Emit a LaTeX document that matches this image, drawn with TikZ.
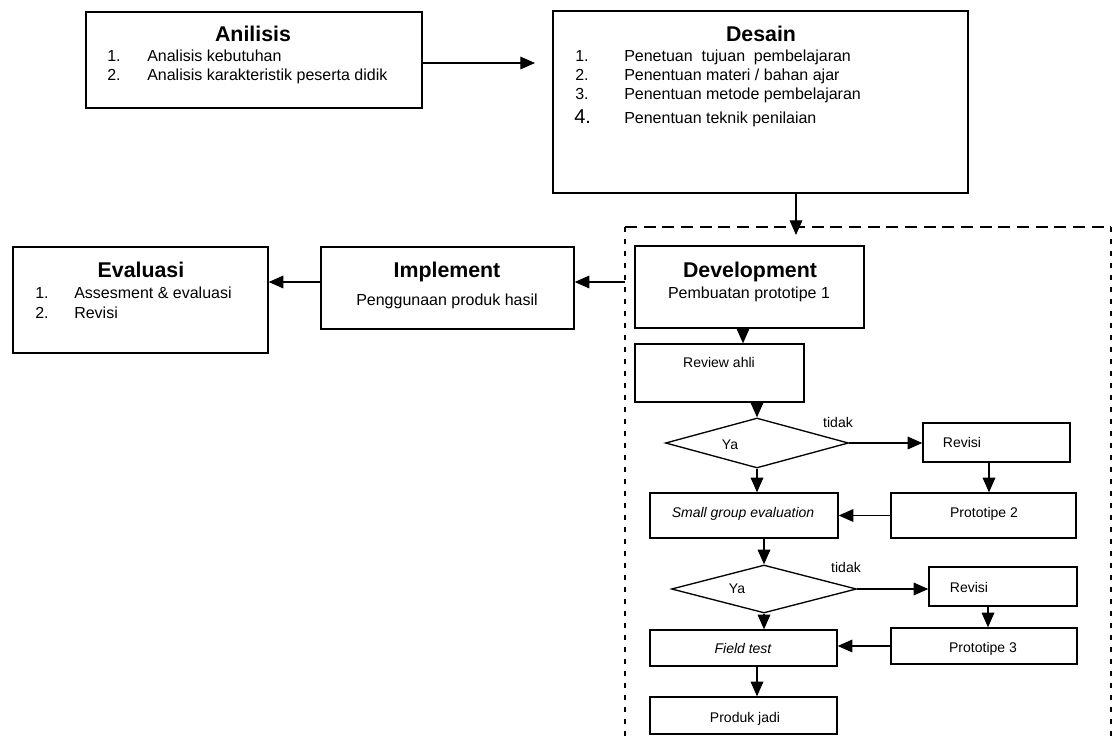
\documentclass[tikz,border=0pt]{standalone}
\usepackage{fontspec}
\setmainfont{Liberation Sans}
\usetikzlibrary{arrows.meta,shapes.geometric,fit}
\tikzset{
  box/.style={draw, line width=1pt, inner sep=0pt},
  dia/.style={draw, diamond, line width=1pt, inner sep=0pt},
  arr/.style={line width=0.9pt, -{Triangle[length=11pt,width=9.5pt]}},
  ttl/.style={font=\fontsize{16}{19}\selectfont\bfseries, anchor=base, inner sep=0pt},
  sub/.style={font=\fontsize{12}{14}\selectfont, anchor=base, inner sep=0pt},
  txt/.style={font=\fontsize{12}{14}\selectfont, anchor=base west, inner sep=0pt},
  sm/.style={font=\fontsize{10.5}{12}\selectfont, anchor=base, inner sep=0pt},
  smi/.style={font=\fontsize{10.5}{12}\selectfont\itshape, anchor=base, inner sep=0pt},
  frame/.style={line width=0.9pt},
}
\begin{document}
\begin{tikzpicture}[x=0.75pt,y=-0.75pt]
\fill[white] (0,0) rectangle (1118,742);
\useasboundingbox (0,0) rectangle (1118,742);

% ---------- Anilisis ----------
\node[box, fit={(86,12) (422,108)}] (anl) {};
\node[ttl] (anlT) at (253,42) {Anilisis};
\node[txt] (anl1n) at (107,62) {1.};
\node[txt] (anl1) at (147,62) {Analisis kebutuhan};
\node[txt] (anl2n) at (107,81) {2.};
\node[txt] (anl2) at (147,81) {Analisis karakteristik peserta didik};

% ---------- Desain ----------
\node[box, fit={(553,11) (968,193)}] (des) {};
\node[ttl] (desT) at (761,42) {Desain};
\node[txt] (des1n) at (575,62) {1.};
\node[txt] (des1) at (624,62) {Penetuan\hspace{0.55em}tujuan\hspace{0.55em}pembelajaran};
\node[txt] (des2n) at (575,81) {2.};
\node[txt] (des2) at (624,81) {Penentuan materi / bahan ajar};
\node[txt] (des3n) at (575,100) {3.};
\node[txt] (des3) at (624,100) {Penentuan metode pembelajaran};
\node[txt, font=\fontsize{15}{17}\selectfont] (des4n) at (574,123) {4.};
\node[txt] (des4) at (624,123) {Penentuan teknik penilaian};

% ---------- Evaluasi ----------
\node[box, fit={(13,247) (268,353)}] (eva) {};
\node[ttl] (evaT) at (141,277) {Evaluasi};
\node[txt] (eva1n) at (35,298) {1.};
\node[txt] (eva1) at (74,298) {Assesment \& evaluasi};
\node[txt] (eva2n) at (35,318) {2.};
\node[txt] (eva2) at (74,318) {Revisi};

% ---------- Implement ----------
\node[box, fit={(321,247) (574,329)}] (imp) {};
\node[ttl] (impT) at (447,277) {Implement};
\node[sub] (impS) at (447,305) {Penggunaan produk hasil};

% ---------- Development frame ----------
\coordinate (fTL) at (625,227);
\coordinate (fTR) at (1111,227);
\coordinate (fBL) at (625,742);
\coordinate (fBR) at (1111,742);
\draw[frame, dash pattern=on 9pt off 5pt] (fTL) -- (fTR);
\draw[frame, dash pattern=on 4pt off 5pt] (fTL) -- (fBL);
\draw[frame, dash pattern=on 4pt off 5pt] (fTR) -- (fBR);

\node[box, fit={(635,246) (864,328)}] (dev) {};
\node[ttl] (devT) at (750,277) {Development};
\node[sub] (devS) at (749,298) {Pembuatan prototipe 1};

\node[box, fit={(635,344) (804,402)}] (rev) {};
\node[sm] (revT) at (719,367) {Review ahli};

\node[dia, minimum width=137.25pt, minimum height=37.5pt] (d1) at (757,443) {};
\node[sm] (d1Y) at (730,449) {Ya};
\node[sm] (t1) at (838,427) {tidak};

\node[box, fit={(923,423) (1070,462)}] (r1) {};
\node[sm] (r1T) at (962,447) {Revisi};

\node[box, fit={(891,493) (1076,538)}] (p2) {};
\node[sm] (p2T) at (984,517) {Prototipe 2};

\node[box, fit={(650,493) (838,538)}] (sg) {};
\node[smi] (sgT) at (743,517) {Small group evaluation};

\node[dia, minimum width=138.75pt, minimum height=36pt] (d2) at (764,589) {};
\node[sm] (d2Y) at (737,593) {Ya};
\node[sm] (t2) at (846,572) {tidak};

\node[box, fit={(929,567) (1077,606)}] (r2) {};
\node[sm] (r2T) at (969,592) {Revisi};

\node[box, fit={(891,628) (1077,664)}] (p3) {};
\node[sm] (p3T) at (983,652) {Prototipe 3};

\node[box, fit={(650,630) (837,666)}] (ft) {};
\node[smi] (ftT) at (743,653) {Field test};

\node[box, fit={(650,697) (837,734)}] (pj) {};
\node[sm] (pjT) at (745,722) {Produk jadi};

% ---------- connectors ----------
\coordinate (a1) at (535,63);
\draw[arr] (anl.east |- a1) -- (a1);
\coordinate (a2) at (796,235);
\draw[arr] (des.south -| a2) -- (a2);
\coordinate (fl) at (625,282);
\draw[arr] (fl) -- (imp.east |- fl);
\draw[arr] (imp.west |- fl) -- (eva.east |- fl);

\coordinate (cDev) at (743,0);
\draw[arr] (dev.south -| cDev) -- (rev.north -| cDev);
\draw[arr] (rev.south -| d1.north) -- (d1.north);
\draw[arr] (d1.east) -- (r1.west |- d1.east);
\coordinate (cR1) at (989,0);
\draw[arr] (r1.south -| cR1) -- (p2.north -| cR1);
\draw[arr] (p2.west) -- (sg.east |- p2.west);
\draw[arr] (d1.south) -- (sg.north -| d1.south);
\draw[arr] (sg.south -| d2.north) -- (d2.north);
\draw[arr] (d2.east) -- (r2.west |- d2.east);
\coordinate (cR2) at (988,0);
\draw[arr] (r2.south -| cR2) -- (p3.north -| cR2);
\draw[arr] (p3.west) -- (ft.east |- p3.west);
\draw[arr] (d2.south) -- (ft.north -| d2.south);
\coordinate (cFt) at (757,0);
\draw[arr] (ft.south -| cFt) -- (pj.north -| cFt);
\end{tikzpicture}
\end{document}
